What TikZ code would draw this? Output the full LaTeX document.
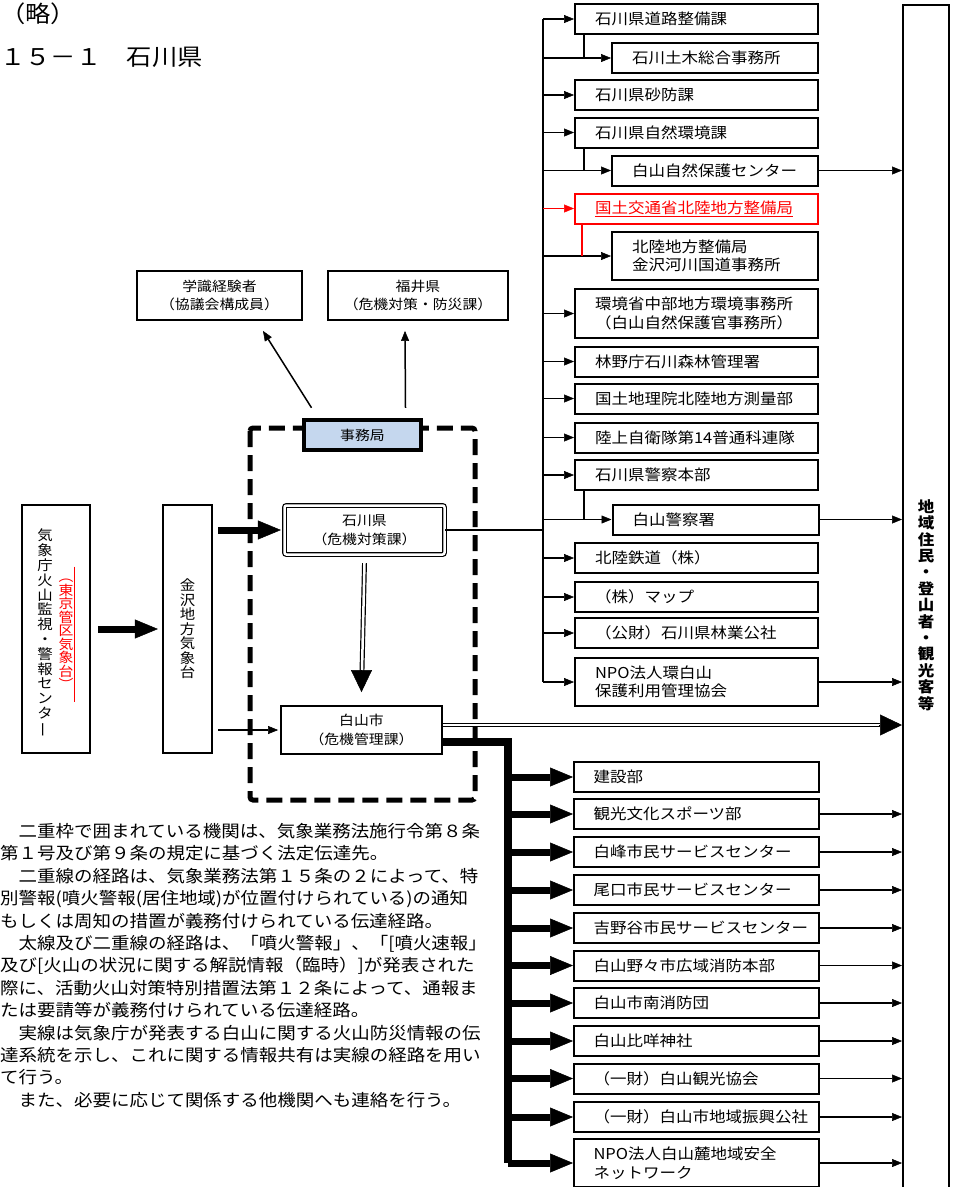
\documentclass[tikz,border=0pt]{standalone}
\usepackage{fontspec}
\setmainfont{Noto Sans CJK JP}[FakeStretch=1.1]
\usetikzlibrary{arrows.meta}
\definecolor{jimfill}{RGB}{197,215,238}

\begin{document}
\begin{tikzpicture}[x=1pt,y=-1pt,
  box/.style={draw,line width=1.8pt,inner sep=0pt,align=center,font=\fontsize{13.5}{18.5}\selectfont},
  rbox/.style={draw,line width=2pt,minimum height=30pt,inner xsep=20pt,inner ysep=0pt,text width=203pt,align=left,font=\fontsize{15}{18.5}\selectfont},
  sbox/.style={rbox,text width=166pt},
  bbox/.style={rbox,text width=206pt,inner xsep=19.5pt},
  vtext/.style={align=center,inner sep=0pt,font=\fontsize{14}{14.8}\selectfont},
  arr/.style={line width=1.8pt,-{Triangle[length=10pt,width=8pt,line width=0.5pt]}},
  tharr/.style={line width=7pt,-{Triangle[length=23pt,width=19pt,line width=0.5pt]}},
  dbl/.style={double,double distance=2.5pt,line width=1.2pt},
  bighead/.style={line width=1pt,-{Triangle[length=22pt,width=21pt,line width=0.5pt]}},
]
\useasboundingbox (0,0) rectangle (953,1187);

% Title lines
\node[anchor=west,inner sep=0pt,font=\fontsize{23}{23}\selectfont] (ryaku) at (0,14) {（略）};
\node[anchor=west,inner sep=0pt,font=\fontsize{23}{23}\selectfont] (title) at (0,57) {１５－１　石川県};

% Right column: prefecture and national agencies
\node[rbox] (r1) at (696.5,19) {石川県道路整備課};
\node[sbox] (r2) at (715,58) {石川土木総合事務所};
\node[rbox] (r3) at (696.5,95) {石川県砂防課};
\node[rbox] (r4) at (696.5,132.5) {石川県自然環境課};
\node[sbox] (r5) at (715,170.5) {白山自然保護センター};
\node[rbox,draw=red,text=red] (r6) at (696.5,208.5) {\underline{国土交通省北陸地方整備局}};
\node[sbox,minimum height=48pt] (r7) at (715,256) {北陸地方整備局\\金沢河川国道事務所};
\node[rbox,minimum height=49pt] (r8) at (696.5,313.5) {環境省中部地方環境事務所\\（白山自然保護官事務所）};
\node[rbox] (r9) at (696.5,361.5) {林野庁石川森林管理署};
\node[rbox] (r10) at (696.5,398.5) {国土地理院北陸地方測量部};
\node[rbox] (r11) at (696.5,437.5) {陸上自衛隊第14普通科連隊};
\node[rbox] (r12) at (696.5,475) {石川県警察本部};
\node[sbox] (r13) at (715.5,519.5) {白山警察署};
\node[rbox] (r14) at (696.5,558) {北陸鉄道（株）};
\node[rbox] (r15) at (696.5,597) {（株）マップ};
\node[rbox] (r16) at (696.5,633) {（公財）石川県林業公社};
\node[rbox,minimum height=48pt] (r17) at (696.5,682) {NPO法人環白山\\保護利用管理協会};

% Residents box on the far right
\node[draw,line width=2pt,minimum width=46pt,minimum height=1200pt,inner sep=0pt,align=center,
  font=\bfseries\fontsize{15}{16.4}\selectfont] (res) at (926,605)
  {地\\域\\住\\民\\・\\登\\山\\者\\・\\観\\光\\客\\等};

% Bottom column: Hakusan city departments
\node[bbox] (b1) at (696.5,777) {建設部};
\node[bbox] (b2) at (696.5,814) {観光文化スポーツ部};
\node[bbox] (b3) at (696.5,852) {白峰市民サービスセンター};
\node[bbox] (b4) at (696.5,890) {尾口市民サービスセンター};
\node[bbox] (b5) at (696.5,928) {吉野谷市民サービスセンター};
\node[bbox] (b6) at (696.5,965.5) {白山野々市広域消防本部};
\node[bbox] (b7) at (696.5,1003) {白山市南消防団};
\node[bbox] (b8) at (696.5,1041) {白山比咩神社};
\node[bbox] (b9) at (696.5,1078.5) {（一財）白山観光協会};
\node[bbox] (b10) at (696.5,1117) {（一財）白山市地域振興公社};
\node[bbox,minimum height=48pt] (b11) at (696.5,1163) {NPO法人白山麓地域安全\\ネットワーク};

% Council members and Fukui
\node[box,minimum width=165pt,minimum height=49pt] (gak) at (219.5,295.5) {学識経験者\\（協議会構成員）};
\node[box,minimum width=180pt,minimum height=49pt] (fuk) at (418,295.5) {福井県\\（危機対策・防災課）};

% Dashed frame round the council
\draw[line width=5pt,dash pattern=on 16pt off 8pt,rounded corners=3pt] (250,428) rectangle (475,800);
\node[box,line width=4.5pt,fill=jimfill,minimum width=117pt,minimum height=30pt] (jim) at (362.5,435) {事務局};
\node[box,double,double distance=2.5pt,line width=1.2pt,rounded corners=2pt,minimum width=160pt,minimum height=49pt] (ishi) at (364.5,530) {石川県\\（危機対策課）};
\node[box,minimum width=161pt,minimum height=48pt] (haku) at (361.5,730) {白山市\\（危機管理課）};

% Meteorological agency boxes (vertical text)
\node[draw,line width=2.2pt,minimum width=68pt,minimum height=248pt] (jma) at (56,629) {};
\node[vtext] (jmaA) at (45,633.5) {気\\象\\庁\\火\\山\\監\\視\\・\\警\\報\\セ\\ン\\タ\\\rotatebox[origin=c]{90}{ー}};
\node[vtext,text=red,font=\fontsize{13.5}{13.5}\selectfont] (jmaB) at (66,634.5)
  {︵\\東\\京\\管\\区\\気\\象\\台\\︶};
\draw[red,line width=0.8pt] ([shift={(8,-68)}]jmaB.center) -- ([shift={(8,67)}]jmaB.center);
\node[draw,line width=2.2pt,minimum width=49pt,minimum height=248pt,align=center,
  font=\fontsize{14}{14.5}\selectfont] (kana) at (187.5,629) {金\\沢\\地\\方\\気\\象\\台};

% Arrows on the left
\draw[tharr,shorten <=7pt,shorten >=4pt] (jma.east) -- (kana.west);
\draw[tharr,shorten <=5pt,shorten >=3pt] (kana.east |- ishi.west) -- (ishi.west);
\draw[arr,line width=1.5pt,shorten <=5pt,shorten >=2pt] (kana.east |- haku.west) -- (haku.west);

% Secretariat to council members and Fukui
\draw[arr,line width=1.5pt] ([shift={(-51,-10)}]jim.north) -- ([shift={(43.5,10)}]gak.south);
\draw[arr,line width=1.5pt] ([shift={(43,-10)}]jim.north) -- ([shift={(-13,10)}]fuk.south);

% Double arrow from prefecture to city
\coordinate (d1) at ([shift={(0,8)}]ishi.south);
\coordinate (d2) at ([shift={(0,-13)}]haku.north);
\draw[dbl,shorten >=21pt] (d1) -- (d2);
\draw[bighead] ([shift={(0,-22)}]d2) -- (d2);

% Prefecture feed and trunk on the right
\coordinate (tk) at (543,0);
\draw[line width=1.8pt] (ishi.east) -- (ishi.east -| tk);
\draw[line width=2pt] (r1.west -| tk) -- (r17.west -| tk);
\draw[arr] (r1.west -| tk) -- (r1.west);
\draw[arr] (r2.west -| tk) -- (r2.west);
\draw[arr] (r3.west -| tk) -- (r3.west);
\draw[arr] (r4.west -| tk) -- (r4.west);
\draw[arr] (r5.west -| tk) -- (r5.west);
\draw[arr,red] (r6.west -| tk) -- (r6.west);
\draw[arr] (r7.west -| tk) -- (r7.west);
\draw[arr] (r8.west -| tk) -- (r8.west);
\draw[arr] (r9.west -| tk) -- (r9.west);
\draw[arr] (r10.west -| tk) -- (r10.west);
\draw[arr] (r11.west -| tk) -- (r11.west);
\draw[arr] (r12.west -| tk) -- (r12.west);
\draw[arr] (r13.west -| tk) -- (r13.west);
\draw[arr] (r14.west -| tk) -- (r14.west);
\draw[arr] (r15.west -| tk) -- (r15.west);
\draw[arr] (r16.west -| tk) -- (r16.west);
\draw[arr] (r17.west -| tk) -- (r17.west);

% Stems from parent offices down to sub offices
\coordinate (s1) at ([shift={(10,0)}]r1.south west);
\draw[line width=2pt] (s1) -- (s1 |- r2.west);
\coordinate (s4) at ([shift={(10,0)}]r4.south west);
\draw[line width=2pt] (s4) -- (s4 |- r5.west);
\coordinate (s6) at ([shift={(8,0)}]r6.south west);
\draw[red,line width=2pt] (s6) -- (s6 |- r7.west);
\coordinate (s12) at ([shift={(10,0)}]r12.south west);
\draw[line width=2pt] (s12) -- (s12 |- r13.west);

% Right column to residents
\draw[arr] (r5.east) -- (r5.east -| res.west);
\draw[arr] (r13.east) -- (r13.east -| res.west);
\draw[arr] (r17.east) -- (r17.east -| res.west);

% Double arrow from city to residents
\coordinate (h1) at ([shift={(0,-5)}]haku.east);
\coordinate (h2) at (h1 -| res.west);
\draw[dbl,shorten >=22pt] (h1) -- (h2);
\draw[bighead] ([shift={(-23,0)}]h2) -- (h2);

% Thick trunk from city to departments
\coordinate (bt) at (508,0);
\draw[line width=8pt] ([shift={(0,12)}]haku.east) -| (b11.west -| bt);
\draw[tharr] (b1.west -| bt) -- (b1.west);
\draw[tharr] (b2.west -| bt) -- (b2.west);
\draw[tharr] (b3.west -| bt) -- (b3.west);
\draw[tharr] (b4.west -| bt) -- (b4.west);
\draw[tharr] (b5.west -| bt) -- (b5.west);
\draw[tharr] (b6.west -| bt) -- (b6.west);
\draw[tharr] (b7.west -| bt) -- (b7.west);
\draw[tharr] (b8.west -| bt) -- (b8.west);
\draw[tharr] (b9.west -| bt) -- (b9.west);
\draw[tharr] (b10.west -| bt) -- (b10.west);
\draw[tharr] (b11.west -| bt) -- (b11.west);

% Departments to residents
\draw[arr] (b2.east) -- (b2.east -| res.west);
\draw[arr] (b3.east) -- (b3.east -| res.west);
\draw[arr] (b4.east) -- (b4.east -| res.west);
\draw[arr] (b5.east) -- (b5.east -| res.west);
\draw[arr] (b6.east) -- (b6.east -| res.west);
\draw[arr] (b7.east) -- (b7.east -| res.west);
\draw[arr] (b8.east) -- (b8.east -| res.west);
\draw[arr] (b9.east) -- (b9.east -| res.west);
\draw[arr] (b10.east) -- (b10.east -| res.west);
\draw[arr] (b11.east) -- (b11.east -| res.west);

% Notes
\node[anchor=north west,align=left,inner sep=0pt,font=\fontsize{16.8}{22.4}\selectfont] (notes) at (0,823)
{　二重枠で囲まれている機関は、気象業務法施行令第８条\\
第１号及び第９条の規定に基づく法定伝達先。\\
　二重線の経路は、気象業務法第１５条の２によって、特\\
別警報(噴火警報(居住地域)が位置付けられている)の通知\\
もしくは周知の措置が義務付けられている伝達経路。\\
　太線及び二重線の経路は、「噴火警報」、「[噴火速報」\\
及び[火山の状況に関する解説情報（臨時）]が発表された\\
際に、活動火山対策特別措置法第１２条によって、通報ま\\
たは要請等が義務付けられている伝達経路。\\
　実線は気象庁が発表する白山に関する火山防災情報の伝\\
達系統を示し、これに関する情報共有は実線の経路を用い\\
て行う。\\
　また、必要に応じて関係する他機関へも連絡を行う。};
\end{tikzpicture}
\end{document}
